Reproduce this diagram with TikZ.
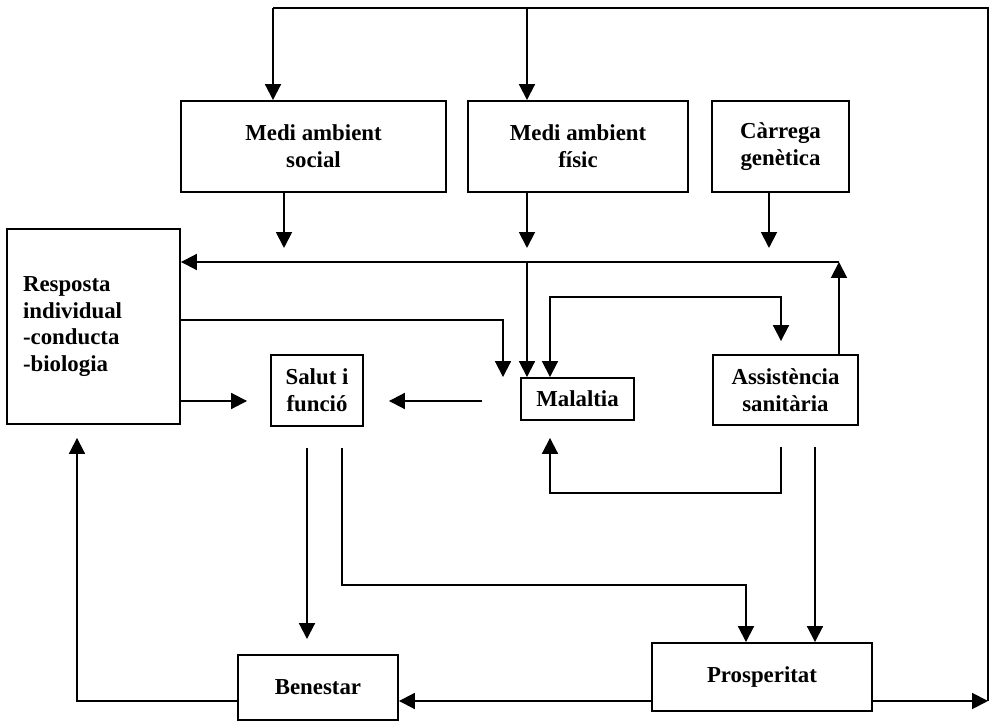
\documentclass[tikz,border=0pt]{standalone}
\usepackage{fontspec}
\setmainfont{Liberation Serif}
\usetikzlibrary{arrows.meta,positioning,calc}

\begin{document}
\begin{tikzpicture}[x=0.02cm, y=-0.02cm,
    box/.style={draw, line width=1.1pt, inner sep=0pt, align=center,
        font=\bfseries\fontsize{13}{15.3}\selectfont},
    arr/.style={line width=1.1pt, -{Triangle[length=9pt,width=9pt]}},
    arrtwo/.style={line width=1.1pt, {Triangle[length=9pt,width=9pt]}-{Triangle[length=9pt,width=9pt]}},
    link/.style={line width=1.1pt}]
    \useasboundingbox (0,0) rectangle (992,722);

    % --- top row ---
    \node[box, minimum width=5.3cm, minimum height=1.82cm] (soc) at (313.5,146.5) {Medi ambient\\social};
    \node[box, minimum width=4.4cm, minimum height=1.82cm] (fis) at (578,146.5) {Medi ambient\\físic};
    \node[box, minimum width=2.74cm, minimum height=1.82cm] (gen) at (780.5,146.5) {Càrrega\\genètica};

    % --- middle row ---
    \node[box, minimum height=3.9cm, text width=2.82cm, inner xsep=0.32cm, align=left] (resp) at (93.5,326.5)
        {Resposta\\individual\\-conducta\\-biologia};
    \node[box, minimum width=1.84cm, minimum height=1.42cm] (salut) at (317,390.5) {Salut i\\funció};
    \node[box, minimum width=2.26cm, minimum height=0.84cm] (mal) at (577.5,399) {Malaltia};
    \node[box, minimum width=2.9cm, minimum height=1.4cm] (asist) at (785.5,390) {Assistència\\sanitària};

    % --- bottom row ---
    \node[box, minimum width=3.2cm, minimum height=1.3cm] (ben) at (318,687.5) {Benestar};
    \node[box, minimum width=4.4cm, minimum height=1.36cm] (pros) at (762,677) {Prosperitat};

    % Helper points
    \coordinate (topR) at (988,8);
    \coordinate (botR) at (988,701);
    \coordinate (topL) at (273,8);
    \coordinate (topM) at (527,8);
    \coordinate (socD) at (284,248);
    \coordinate (fisD) at (527,248);
    \coordinate (genD) at (769,248);
    \coordinate (retC) at (839,262);
    \coordinate (respK) at (503,320);
    \coordinate (loopA) at (550,297);
    \coordinate (loopB) at (781,297);
    \coordinate (lowB) at (781,493);
    \coordinate (midY) at (0,401);
    \coordinate (salB) at (307,0);
    \coordinate (salP) at (342,585);
    \coordinate (prosP) at (746,585);
    \coordinate (asiP) at (815,0);
    \coordinate (benL) at (77,701);

    % Outer feedback loop
    \draw[arr] (pros.east |- botR) -- (botR);
    \draw[link] (botR) -- (topR) -- (topL);
    \draw[arr] (topL) -- (topL |- soc.north);
    \draw[arr] (topM) -- (topM |- fis.north);

    % Influences from the top boxes
    \draw[arr] (socD |- soc.south) -- (socD);
    \draw[arr] (fisD |- fis.south) -- (fisD);
    \draw[arr] (genD |- gen.south) -- (genD);

    % Return line to the response box
    \draw[arr] (retC |- asist.north) -- (retC);
    \draw[arr] (retC) -- (retC -| resp.east);
    \draw[arr] (retC -| topM) -- (topM |- mal.north);
    \draw[arr] (resp.east |- respK) -- (respK) -- (respK |- mal.north);

    % Illness and care
    \draw[arrtwo, shorten >=0.26cm] (loopA |- mal.north) -- (loopA) -- (loopB) -- (loopB |- asist.north);
    \draw[arr, shorten <=0.42cm, shorten >=0.34cm] (lowB |- asist.south) -- (lowB) -| (loopA |- mal.south);

    % Into health and function
    \draw[arr, shorten >=0.46cm] (resp.east |- midY) -- (salut.west |- midY);
    \draw[arr, shorten <=0.76cm, shorten >=0.5cm] (mal.west |- midY) -- (salut.east |- midY);

    % Towards well-being and prosperity
    \draw[arr, shorten <=0.42cm, shorten >=0.3cm] (salB |- salut.south) -- (salB |- ben.north);
    \draw[arr, shorten <=0.42cm] (salP |- salut.south) -- (salP) -- (prosP) -- (prosP |- pros.north);
    \draw[arr, shorten <=0.42cm] (asiP |- asist.south) -- (asiP |- pros.north);
    \draw[arr] (pros.west |- botR) -- (ben.east |- botR);
    \draw[arr, shorten >=0.26cm] (ben.west |- botR) -- (benL) -- (benL |- resp.south);
\end{tikzpicture}
\end{document}
